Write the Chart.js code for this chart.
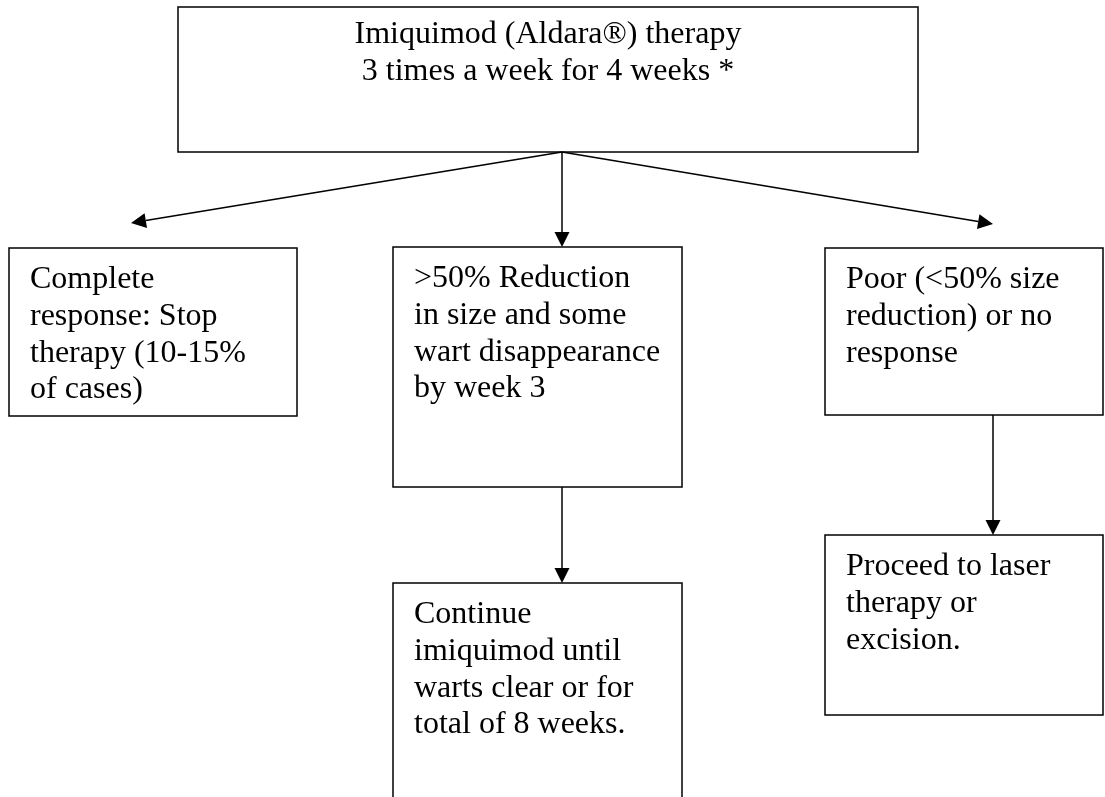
<!DOCTYPE html>
<html>
<head>
<meta charset="utf-8">
<script src="https://cdn.jsdelivr.net/npm/chart.js@4/dist/chart.umd.min.js"></script>
<style>
  html, body { margin: 0; padding: 0; background: #fff; }
  #wrap { width: 1105px; height: 797px; }
</style>
</head>
<body>
<div id="wrap"><canvas id="flow"></canvas></div>
<script>
// flowchart nodes, in chart units (x: 0..1105, y: 0..797 top-down)
const nodeLeft   = [178, 9,   393, 393, 825,  825];
const nodeTop    = [7,   248, 247, 583, 248,  535];
const nodeRight  = [918, 297, 682, 682, 1103, 1103];
const nodeBottom = [152, 416, 487, 820, 415,  715];
const nodeText = [
  ['Imiquimod (Aldara®) therapy', '3 times a week for 4 weeks *'],
  ['Complete', 'response: Stop', 'therapy (10-15%', 'of cases)'],
  ['>50% Reduction', 'in size and some', 'wart disappearance', 'by week 3'],
  ['Continue', 'imiquimod until', 'warts clear or for', 'total of 8 weeks.'],
  ['Poor (<50% size', 'reduction) or no', 'response'],
  ['Proceed to laser', 'therapy or', 'excision.']
];
const nodeCentered = [true, false, false, false, false, false];

// arrows: start and tip
const arrowFromX = [562, 562, 562, 562, 993];
const arrowFromY = [152, 152, 152, 487, 415];
const arrowToX   = [131, 562, 993, 562, 993];
const arrowToY   = [223, 247, 224, 583, 535];

const flowPlugin = {
  id: 'flow',
  afterDatasetsDraw(chart) {
    const ctx = chart.ctx;
    const sx = chart.scales.x, sy = chart.scales.y;
    const px = v => sx.getPixelForValue(v);
    const py = v => sy.getPixelForValue(v);
    ctx.save();
    ctx.strokeStyle = '#000';
    ctx.fillStyle = '#000';
    ctx.lineWidth = 1.5;

    // boxes
    nodeLeft.forEach((l, i) => {
      const x0 = px(l), y0 = py(nodeTop[i]);
      const x1 = px(nodeRight[i]), y1 = py(nodeBottom[i]);
      ctx.strokeRect(x0, y0, x1 - x0, y1 - y0);
    });

    // arrows
    arrowFromX.forEach((fx, i) => {
      const x0 = px(fx), y0 = py(arrowFromY[i]);
      const x1 = px(arrowToX[i]), y1 = py(arrowToY[i]);
      const ang = Math.atan2(y1 - y0, x1 - x0);
      const len = 15, half = 7.5;
      const bx = x1 - len * Math.cos(ang), by = y1 - len * Math.sin(ang);
      ctx.beginPath();
      ctx.moveTo(x0, y0);
      ctx.lineTo(bx, by);
      ctx.stroke();
      ctx.beginPath();
      ctx.moveTo(x1, y1);
      ctx.lineTo(bx + half * Math.sin(ang), by - half * Math.cos(ang));
      ctx.lineTo(bx - half * Math.sin(ang), by + half * Math.cos(ang));
      ctx.closePath();
      ctx.fill();
    });

    // labels
    ctx.font = '32px "Liberation Serif", "Times New Roman", serif';
    ctx.textBaseline = 'alphabetic';
    nodeText.forEach((lines, i) => {
      const centered = nodeCentered[i];
      ctx.textAlign = centered ? 'center' : 'left';
      const tx = centered ? px((nodeLeft[i] + nodeRight[i]) / 2) : px(nodeLeft[i] + 21);
      const first = nodeTop[i] + (centered ? 36 : 40);
      lines.forEach((s, k) => {
        ctx.fillText(s, tx, py(first + k * 36.8));
      });
    });
    ctx.restore();
  }
};

new Chart(document.getElementById('flow'), {
  type: 'scatter',
  data: { datasets: [{ data: [], pointRadius: 0 }] },
  options: {
    responsive: true,
    maintainAspectRatio: false,
    animation: false,
    layout: { padding: 0 },
    plugins: { legend: { display: false }, tooltip: { enabled: false } },
    scales: {
      x: { type: 'linear', min: 0, max: 1105, display: false },
      y: { type: 'linear', min: 0, max: 797, reverse: true, display: false }
    }
  },
  plugins: [flowPlugin]
});
</script>
</body>
</html>
